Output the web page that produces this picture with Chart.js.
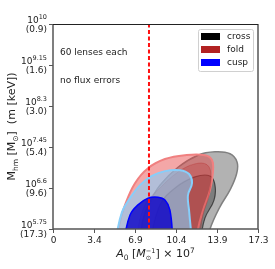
<!DOCTYPE html>
<html>
<head>
<meta charset="utf-8">
<script src="https://cdn.jsdelivr.net/npm/chart.js@4.4.1/dist/chart.umd.min.js"></script>
<style>
  html, body { margin: 0; padding: 0; background: #fff; }
</style>
</head>
<body>
<canvas id="chart" width="275" height="269"></canvas>
<script>
// axis ticks
const xTicks = [0, 3.46, 6.92, 10.38, 13.84, 17.3];
const xTickLabels = ['0', '3.4', '6.9', '10.4', '13.9', '17.3'];
const yTicks = [5.75, 6.6, 7.45, 8.3, 9.15, 10];
const yTickExp = ['5.75', '6.6', '7.45', '8.3', '9.15', '10'];
const yTickKeV = ['(17.3)', '(9.6)', '(5.4)', '(3.0)', '(1.6)', '(0.9)'];

// legend
const categories = ['cross', 'fold', 'cusp'];
const categoryColors = ['#000000', '#b22222', '#0000ff'];

// vertical reference line at A0
const refA0 = 8.1;

// contour outlines, [A0, log10 Mhm]
const crossOuter = [[7.34, 5.5], [7.6, 5.95], [8.1, 6.27], [9.03, 6.66], [10.55, 7.03], [12.24, 7.28], [13.67, 7.35],
  [14.94, 7.31], [15.53, 7.14], [15.5, 6.9], [14.94, 6.56], [14.09, 6.21], [13.25, 5.75], [13.1, 5.5]];
const crossInner = [[8.19, 5.5], [9.03, 6.25], [10.30, 6.60], [11.98, 6.83], [13.25, 6.85], [13.67, 6.66],
  [13.59, 6.35], [12.83, 5.98], [12.41, 5.5]];
const foldOuter = [[5.4, 5.5], [5.6, 5.85], [6.08, 6.25], [6.92, 6.70], [8.02, 7.01], [9.45, 7.20], [11.14, 7.28],
  [12.83, 7.28], [13.42, 7.18], [13.50, 6.93], [13.25, 6.56], [12.66, 6.14], [12.24, 5.75], [12.2, 5.5]];
const foldInner = [[6.92, 5.5], [7.76, 6.25], [9.03, 6.60], [10.55, 6.93], [11.98, 7.10], [13.0, 7.08], [13.33, 6.87],
  [13.16, 6.45], [12.66, 6.04], [12.32, 5.5]];
const cuspOuter = [[5.25, 5.5], [5.82, 6.10], [6.50, 6.39], [7.34, 6.66], [8.35, 6.85], [9.45, 6.95], [10.72, 6.97],
  [11.48, 6.89], [11.73, 6.70], [11.39, 6.45], [11.48, 6.14], [11.73, 5.5]];
const cuspInner = [[5.95, 5.5], [6.50, 6.04], [7.17, 6.25], [8.02, 6.39], [8.86, 6.41], [9.45, 6.35], [9.87, 6.14],
  [10.13, 5.5]];

const FONT = "'DejaVu Sans', sans-serif";

function pts(arr) {
  return arr.map(p => ({ x: p[0], y: p[1] }));
}

function contour(data, fill, border, width) {
  return {
    data: pts(data),
    showLine: true,
    fill: 'shape',
    backgroundColor: fill,
    borderColor: border,
    borderWidth: width,
    pointRadius: 0,
    tension: 0.4,
    clip: 0
  };
}

// draw a run of text pieces (sub/superscripts); returns width
function drawRuns(ctx, runs, x, y, align) {
  let total = 0;
  runs.forEach(r => {
    ctx.font = (r.italic ? 'italic ' : '') + r.size + 'px ' + FONT;
    r.w = ctx.measureText(r.t).width;
    if (!r.stay) total += r.w;
  });
  let cx = align === 'right' ? x - total : align === 'center' ? x - total / 2 : x;
  ctx.textBaseline = 'alphabetic';
  ctx.textAlign = 'left';
  runs.forEach(r => {
    ctx.font = (r.italic ? 'italic ' : '') + r.size + 'px ' + FONT;
    ctx.fillText(r.t, cx, y + (r.dy || 0));
    if (!r.stay) cx += r.w;
  });
  return total;
}

const decorations = {
  id: 'decorations',
  afterDraw(chart) {
    const ctx = chart.ctx;
    const a = chart.chartArea;
    const xs = chart.scales.x, ys = chart.scales.y;
    ctx.save();

    // spines
    ctx.strokeStyle = '#555';
    ctx.lineWidth = 1.5;
    ctx.beginPath();
    ctx.moveTo(a.left, a.top); ctx.lineTo(a.left, a.bottom); ctx.lineTo(a.right, a.bottom); ctx.lineTo(a.right, a.top);
    ctx.stroke();
    ctx.strokeStyle = '#222';
    ctx.lineWidth = 1;
    ctx.beginPath();
    ctx.moveTo(a.left, a.top + 0.5); ctx.lineTo(a.right, a.top + 0.5);
    ctx.stroke();

    // x ticks
    ctx.strokeStyle = '#555';
    ctx.lineWidth = 1;
    ctx.fillStyle = '#222';
    xTicks.forEach((v, i) => {
      const px = Math.round(xs.getPixelForValue(v)) + 0.5;
      ctx.beginPath(); ctx.moveTo(px, a.bottom); ctx.lineTo(px, a.bottom + 4); ctx.stroke();
      ctx.font = '9px ' + FONT;
      ctx.textAlign = 'center';
      ctx.textBaseline = 'middle';
      ctx.fillText(xTickLabels[i], px, a.bottom + 12);
    });

    // y ticks
    yTicks.forEach((v, i) => {
      const py = Math.round(ys.getPixelForValue(v)) + 0.5;
      ctx.beginPath(); ctx.moveTo(a.left, py); ctx.lineTo(a.left - 4, py); ctx.stroke();
      drawRuns(ctx, [{ t: '10', size: 9 }, { t: yTickExp[i], size: 6.5, dy: -4 }], a.left - 6, py - 2, 'right');
      ctx.font = '9px ' + FONT;
      ctx.textAlign = 'right';
      ctx.textBaseline = 'middle';
      ctx.fillText(yTickKeV[i], a.left - 6, py + 5);
    });

    // axis titles
    drawRuns(ctx, [
      { t: 'A', size: 11, italic: true }, { t: '0', size: 7.5, dy: 2.5 }, { t: ' [', size: 11 },
      { t: 'M', size: 11, italic: true }, { t: '\u2299', size: 6.5, dy: 3, stay: true }, { t: '\u22121', size: 6.5, dy: -4.5 },
      { t: '] \u00d7 10', size: 11 }, { t: '7', size: 7.5, dy: -4.5 }
    ], (a.left + a.right) / 2, 257, 'center');

    ctx.translate(15, (a.top + a.bottom) / 2);
    ctx.rotate(-Math.PI / 2);
    drawRuns(ctx, [
      { t: 'M', size: 11 }, { t: 'hm', size: 7.5, dy: 2.5 }, { t: ' [M', size: 11 }, { t: '\u2299', size: 7.5, dy: 2.5 },
      { t: ']  (m [keV])', size: 11 }
    ], 0, 0, 'center');
    ctx.setTransform(1, 0, 0, 1, 0, 0);

    // annotation
    ctx.fillStyle = '#222';
    ctx.font = '9px ' + FONT;
    ctx.textAlign = 'left';
    ctx.textBaseline = 'middle';
    ctx.fillText('60 lenses each', a.left + 7, 53);
    ctx.fillText('no flux errors', a.left + 7, 81);

    // legend
    const lx = 198, ly = 29, lw = 55, lh = 42;
    ctx.fillStyle = 'rgba(255,255,255,0.8)';
    ctx.strokeStyle = '#d0d0d0';
    ctx.lineWidth = 1;
    ctx.beginPath();
    ctx.roundRect(lx + 0.5, ly + 0.5, lw, lh, 2);
    ctx.fill(); ctx.stroke();
    categories.forEach((c, i) => {
      const cy = ly + 7 + i * 13;
      ctx.fillStyle = categoryColors[i];
      ctx.fillRect(lx + 3, cy - 3, 19, 7);
      ctx.fillStyle = '#222';
      ctx.font = '9px ' + FONT;
      ctx.textAlign = 'left';
      ctx.textBaseline = 'middle';
      ctx.fillText(c, lx + 29, cy + 0.5);
    });
    ctx.restore();
  }
};

new Chart(document.getElementById('chart'), {
  type: 'scatter',
  data: {
    datasets: [
      {
        data: [{ x: refA0, y: 5.75 }, { x: refA0, y: 10 }],
        showLine: true,
        borderColor: '#ff1010',
        borderWidth: 2,
        borderDash: [4, 2.5],
        pointRadius: 0,
        clip: 0
      },
      contour(cuspInner, 'rgba(10,0,200,0.8)', '#0000ff', 1.5),
      contour(cuspOuter, 'rgba(135,206,250,0.6)', '#87cefa', 2),
      contour(foldInner, 'rgba(178,34,34,0.25)', 'rgba(178,34,34,0.3)', 1),
      contour(foldOuter, 'rgba(230,60,60,0.45)', '#f08080', 2),
      contour(crossInner, 'rgba(0,0,0,0.3)', 'rgba(0,0,0,0.55)', 1.2),
      contour(crossOuter, 'rgba(0,0,0,0.3)', '#808080', 1.5)
    ]
  },
  options: {
    responsive: false,
    animation: false,
    devicePixelRatio: 1,
    layout: { padding: { left: 53, right: 17, top: 24, bottom: 40 } },
    elements: { line: { capBezierPoints: false } },
    scales: {
      x: { type: 'linear', min: 0, max: 17.3, display: false },
      y: { type: 'linear', min: 5.75, max: 10, display: false }
    },
    plugins: {
      legend: { display: false },
      tooltip: { enabled: false }
    }
  },
  plugins: [decorations]
});
</script>
</body>
</html>
